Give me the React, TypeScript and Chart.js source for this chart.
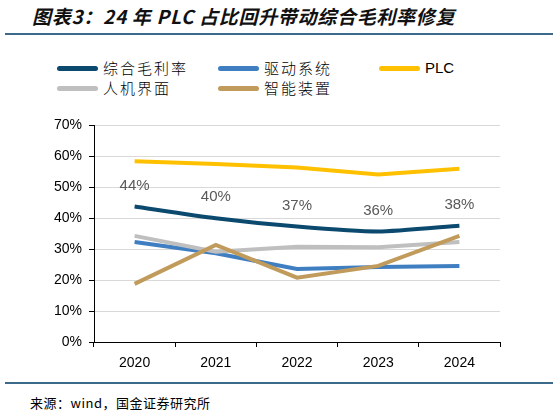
import React, { useEffect, useRef } from 'react'
import { Chart, registerables } from 'chart.js'

Chart.register(...registerables)

const years = ['2020', '2021', '2022', '2023', '2024']
const seriesNames = ['综合毛利率', '驱动系统', 'PLC', '人机界面', '智能装置']
const zongHe = [43.8, 40.0, 37.3, 35.7, 37.6]
const quDong = [32.3, 28.7, 23.6, 24.2, 24.6]
const plc = [58.4, 57.5, 56.4, 54.1, 56.0]
const renJi = [34.3, 29.2, 30.8, 30.6, 32.3]
const zhiNeng = [18.8, 31.4, 20.8, 24.6, 34.3]
const yTicks = [0, 10, 20, 30, 40, 50, 60, 70]
const colors = ['#0b4a6e', '#3f7fc1', '#ffc000', '#bfbfbf', '#c09b5b']

const FONT = '"Liberation Sans", Arial, sans-serif'

// labels above the 综合毛利率 line
const labelPlugin = {
  id: 'topLabels',
  afterDatasetsDraw(chart: any) {
    const meta = chart.getDatasetMeta(0)
    const ctx = chart.ctx
    ctx.save()
    ctx.fillStyle = '#595959'
    ctx.font = `15px ${FONT}`
    ctx.textAlign = 'center'
    ctx.textBaseline = 'middle'
    meta.data.forEach((pt: any, i: number) => {
      ctx.fillText(Math.round(zongHe[i]) + '%', pt.x, pt.y - 21)
    })
    ctx.restore()
  },
}

const App = () => {
  const chartRef = useRef<HTMLCanvasElement>(null)

  useEffect(() => {
    if (!chartRef.current) return
    const values = [zongHe, quDong, plc, renJi, zhiNeng]
    const chart = new Chart(chartRef.current, {
      type: 'line',
      data: {
        labels: years,
        datasets: values.map((v, i) => ({
          label: seriesNames[i],
          data: v,
          borderColor: colors[i],
          backgroundColor: colors[i],
          borderWidth: 4,
          pointRadius: 0,
          tension: i === 0 ? 0.2 : 0,
          order: i === 0 ? 0 : 5 - i,
        })),
      },
      options: {
        animation: false,
        responsive: false,
        layout: { padding: { top: 15, right: 59, left: 0, bottom: 0 } },
        plugins: { legend: { display: false }, tooltip: { enabled: false } },
        scales: {
          x: {
            offset: true,
            grid: {
              offset: true,
              drawOnChartArea: false,
              tickLength: 5,
              tickColor: '#000',
            },
            border: { color: '#000', width: 1 },
            ticks: { color: '#000', font: { family: FONT, size: 14 }, padding: 8 },
            afterFit: (s: any) => { s.height = 33 },
          },
          y: {
            min: 0,
            max: 70,
            afterBuildTicks: (s: any) => { s.ticks = yTicks.map((v) => ({ value: v })) },
            grid: { color: '#d9d9d9', tickColor: '#000', tickLength: 5, lineWidth: 1 },
            border: { color: '#000', width: 1 },
            ticks: {
              color: '#000',
              font: { family: FONT, size: 14 },
              padding: 7,
              callback: (v: any) => v + '%',
            },
            afterFit: (s: any) => { s.width = 94 },
          },
        },
      },
      plugins: [labelPlugin],
    })
    return () => chart.destroy()
  }, [])

  const legendItem = (i: number) => (
    <div key={i} style={{ display: 'flex', alignItems: 'center', width: 161 }}>
      <div style={{ width: 41, height: 5, borderRadius: 3, background: colors[i], marginRight: 5 }} />
      <span style={{ fontSize: 15, fontWeight: 300, fontFamily: i === 2 ? FONT : '"Noto Sans CJK SC"', color: '#000', letterSpacing: i === 2 ? 0 : 2 }}>
        {seriesNames[i]}
      </span>
    </div>
  )

  return (
    <div style={{ position: 'fixed', left: 0, top: 0, width: 559, height: 416, background: '#fff', overflow: 'hidden' }}>
      <div style={{ position: 'absolute', left: 32, top: 2, fontSize: 19, letterSpacing: 0.7, fontWeight: 'bold', fontStyle: 'italic', fontFamily: '"Noto Sans CJK SC"', color: '#111', whiteSpace: 'nowrap' }}>
        图表3：24 年 PLC 占比回升带动综合毛利率修复
      </div>
      <div style={{ position: 'absolute', left: 5, top: 33, width: 548, height: 2, background: '#3b6a8a' }} />
      <div style={{ position: 'absolute', left: 57, top: 58, lineHeight: '20px' }}>
        <div style={{ display: 'flex', height: 20 }}>{[0, 1, 2].map(legendItem)}</div>
        <div style={{ display: 'flex', height: 20 }}>{[3, 4].map(legendItem)}</div>
      </div>
      <canvas ref={chartRef} width={559} height={265} style={{ position: 'absolute', left: 0, top: 110, width: 559, height: 265 }} />
      <div style={{ position: 'absolute', left: 5, top: 382, width: 548, height: 2, background: '#3b6a8a' }} />
      <div style={{ position: 'absolute', left: 30, top: 393, fontSize: 13, letterSpacing: 0.5, fontFamily: '"Noto Sans CJK SC"', color: '#000', whiteSpace: 'nowrap' }}>
        来源：wind，国金证券研究所
      </div>
    </div>
  )
}

export default App
